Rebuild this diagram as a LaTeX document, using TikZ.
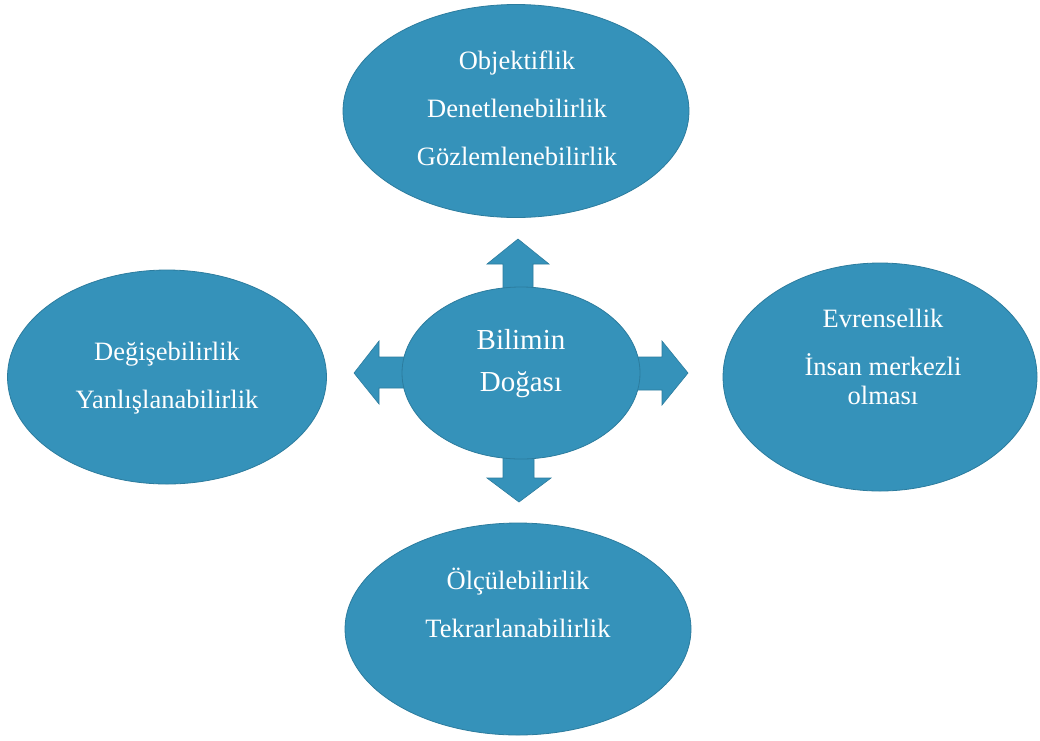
\documentclass[tikz,border=0pt]{standalone}
\usepackage{fontspec}
\setmainfont{Liberation Serif}
\usetikzlibrary{shapes.geometric}
\definecolor{ellfill}{HTML}{3592BA}
\definecolor{elledge}{HTML}{2C7C9E}
\begin{document}
\begin{tikzpicture}[x=1pt,y=-1pt,
  bubble/.style={ellipse, fill=ellfill, draw=elledge, line width=0.8pt, inner sep=0pt},
  blockarrow/.style={fill=ellfill, draw=elledge, line width=0.6pt, line join=miter},
  label/.style={text=white, align=center, font=\fontsize{26.5}{29}\selectfont, inner sep=0pt},
  biglabel/.style={text=white, align=center, font=\fontsize{29}{42}\selectfont, inner sep=0pt}]
\useasboundingbox[fill=white] (0,0) rectangle (1040,740);
% outer ellipses
\node[bubble, minimum width=346pt, minimum height=213pt] (top) at (516,111) {};
\node[bubble, minimum width=319pt, minimum height=214pt] (left) at (167,377) {};
\node[bubble, minimum width=314pt, minimum height=228pt] (right) at (880,377) {};
\node[bubble, minimum width=346pt, minimum height=212pt] (bottom) at (518,629) {};
% block arrows (drawn behind the centre ellipse)
\draw[blockarrow] (503,320) -- (503,264) -- (487,264) -- (518,239) -- (549,264) -- (533,264) -- (533,320) -- cycle;
\draw[blockarrow] (503,420) -- (503,478) -- (487,478) -- (519,502) -- (551,478) -- (534,478) -- (534,420) -- cycle;
\draw[blockarrow] (430,357) -- (379,357) -- (379,341) -- (354,373) -- (379,404) -- (379,388) -- (430,388) -- cycle;
\draw[blockarrow] (610,357) -- (662,357) -- (662,341) -- (688,373) -- (662,405) -- (662,390) -- (610,390) -- cycle;
% centre ellipse
\node[bubble, minimum width=238pt, minimum height=172pt] (centre) at (521,373) {};
% texts
\node[label] (toptext) at (517,108) {Objektiflik\\[19pt]Denetlenebilirlik\\[19pt]Gözlemlenebilirlik};
\node[label] (lefttext) at (167,378) {Değişebilirlik\\[19pt]Yanlışlanabilirlik};
\node[label] (righttext) at (883,357) {Evrensellik\\[19pt]İnsan merkezli\\olması};
\node[label] (bottomtext) at (518,603) {Ölçülebilirlik\\[19pt]Tekrarlanabilirlik};
\node[biglabel] (centretext) at (521,364) {Bilimin\\Doğası};
\end{tikzpicture}
\end{document}
